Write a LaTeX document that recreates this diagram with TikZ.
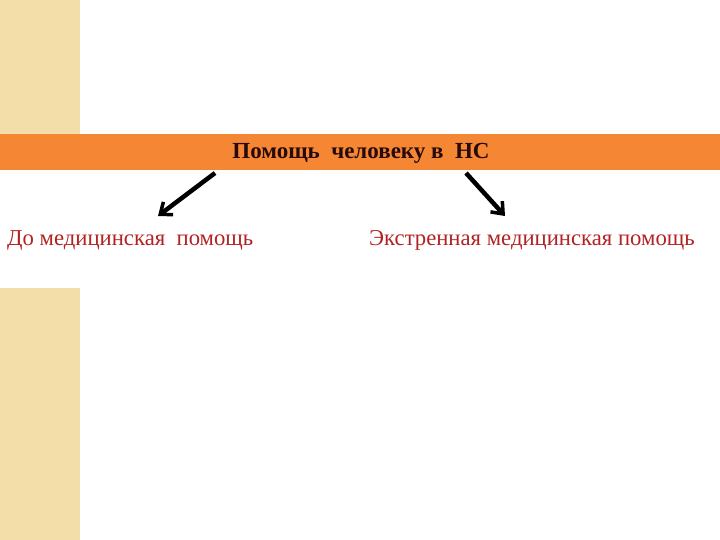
\documentclass[tikz,border=0pt]{standalone}
\usepackage{fontspec}
\setmainfont{Liberation Serif}
\usetikzlibrary{arrows.meta}
\definecolor{barorange}{RGB}{244,134,52}
\definecolor{stripbeige}{RGB}{243,222,170}
\definecolor{titledark}{RGB}{40,10,10}
\definecolor{itemred}{RGB}{178,34,34}
\tikzset{
	headline/.style={font=\fontsize{23}{27}\selectfont\bfseries, text=titledark},
	branch/.style={font=\fontsize{22.7}{27}\selectfont, text=itemred, inner sep=0pt},
	pointer/.style={line width=4.5pt, -{Straight Barb[length=10pt,width=16pt,line width=3.5pt]}}
}
\begin{document}
\begin{tikzpicture}[x=1pt,y=-1pt]
		\useasboundingbox (0,0) rectangle (720,540);
		\fill[stripbeige] (0,0) rectangle (80,134);
		\fill[stripbeige] (0,288) rectangle (80,540);
		\fill[barorange] (0,134) rectangle (720,170);
		\node (help) [headline] at (361,153) {Помощь\ \ человеку в\ \ НС};
		\node (first) [branch, anchor=west] at (7,240) {До медицинская\ \ помощь};
		\node (urgent) [branch, anchor=west] at (369,240) {Экстренная медицинская помощь};
		\coordinate (fromL) at (215,173);
		\coordinate (toL) at (158,216);
		\coordinate (fromR) at (466,173);
		\coordinate (toR) at (505,216);
		\draw[pointer] (fromL) -- (toL);
		\draw[pointer] (fromR) -- (toR);
	\end{tikzpicture}
\end{document}
